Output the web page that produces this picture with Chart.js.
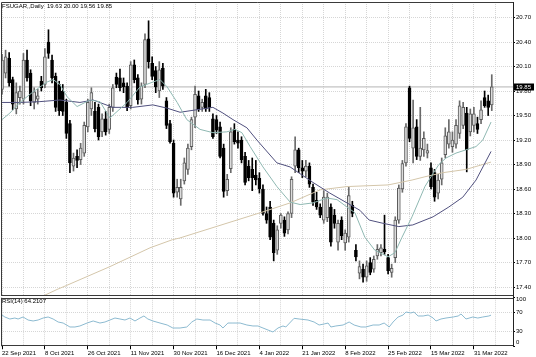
<!DOCTYPE html>
<html><head><meta charset="utf-8">
<script src="https://cdn.jsdelivr.net/npm/chart.js@4"></script>
<style>
html,body{margin:0;padding:0;background:#fff;}
#wrap{position:relative;width:536px;height:357px;overflow:hidden;background:#fff;}
#wrap canvas{position:absolute;left:0;}
</style></head><body>
<div id="wrap">
<canvas id="main" width="536" height="297" style="top:0;width:536px;height:297px"></canvas>
<canvas id="rsi" width="536" height="67" style="top:290px;width:536px;height:67px"></canvas>
</div>
<script>
// ---- data ----
const title = 'FSUGAR,,Daily';
const open = [
19.82,20.02,20.20,19.94,19.58,19.72,19.70,20.18,20.02,19.66,
19.70,19.92,19.88,20.40,20.18,19.98,19.88,19.80,19.66,19.40,
18.88,19.00,18.96,19.04,19.36,19.58,19.55,19.60,19.30,19.46,
19.33,19.60,19.97,19.96,19.90,19.86,19.62,20.12,19.96,19.70,
19.88,20.44,20.14,20.05,19.80,20.08,19.68,19.40,19.16,18.56,
18.48,18.70,18.84,19.12,19.48,19.74,19.60,19.74,19.72,19.46,
19.45,19.36,19.10,18.58,18.85,19.33,19.20,19.20,19.00,18.88,
18.84,18.77,18.73,18.60,18.30,18.38,18.18,17.85,18.18,18.22,
18.10,18.30,18.88,19.08,18.86,18.82,18.88,18.62,18.46,18.38,
18.22,18.25,18.38,18.28,17.95,18.22,17.94,18.01,18.40,17.85,
17.57,17.62,17.52,17.70,17.62,17.78,17.82,17.86,17.76,17.58,
17.76,18.22,18.60,18.92,19.84,19.10,19.36,19.00,19.08,19.04,
18.86,18.80,18.55,18.72,19.02,19.15,19.12,19.15,19.28,19.38,
19.53,19.30,19.38,19.40,19.45,19.72,19.68,19.63];
const high = [
20.25,20.30,20.27,19.97,19.90,19.86,20.26,20.30,20.06,19.84,
19.82,19.98,20.32,20.55,20.24,20.02,19.92,19.88,19.70,19.44,
19.04,19.08,19.16,19.42,19.70,19.84,19.66,19.64,19.52,19.55,
19.64,19.88,20.02,20.07,19.96,19.90,20.16,20.18,20.00,19.90,
20.50,20.66,20.22,20.10,20.16,20.14,19.72,19.44,19.20,18.72,
18.72,18.98,19.15,19.48,19.86,19.80,19.70,19.82,19.78,19.52,
19.50,19.42,19.15,18.78,19.35,19.40,19.30,19.24,19.05,18.95,
18.98,18.95,18.80,18.65,18.38,18.45,18.22,18.15,18.30,18.26,
18.32,18.75,19.24,19.10,18.95,18.95,18.92,18.66,18.56,18.42,
18.58,18.55,18.42,18.35,18.22,18.26,18.10,18.62,18.45,17.92,
17.72,17.68,17.72,17.76,17.78,17.92,17.92,18.28,17.80,17.68,
18.26,18.65,18.95,19.40,19.86,19.69,19.45,19.60,19.30,19.15,
18.92,18.84,18.78,18.98,19.35,19.45,19.30,19.45,19.68,19.66,
19.60,19.58,19.60,19.48,19.68,19.80,19.75,20.00];
const low = [
19.76,19.96,19.86,19.57,19.52,19.64,19.64,19.92,19.62,19.58,
19.64,19.80,19.84,20.20,19.90,19.55,19.50,19.50,19.22,18.80,
18.82,18.86,18.90,19.00,19.30,19.50,19.30,19.20,19.24,19.26,
19.28,19.55,19.84,19.80,19.78,19.56,19.58,19.90,19.64,19.64,
19.84,20.08,19.94,19.78,19.72,19.82,19.34,19.16,18.50,18.50,
18.40,18.66,18.78,19.08,19.35,19.55,19.55,19.55,19.55,19.22,
19.28,18.98,18.50,18.52,18.80,19.15,19.10,18.92,18.65,18.70,
18.58,18.65,18.55,18.28,18.18,17.98,17.72,17.80,18.12,18.02,
18.05,18.25,18.80,18.80,18.74,18.75,18.62,18.40,18.35,18.25,
18.18,18.20,17.90,18.12,17.85,17.98,17.85,17.95,18.26,17.72,
17.50,17.46,17.47,17.55,17.58,17.74,17.78,17.80,17.56,17.52,
17.70,18.18,18.56,18.88,19.18,18.92,18.96,18.95,19.00,18.98,
18.60,18.45,18.48,18.65,18.98,19.10,19.05,19.10,19.22,19.34,
18.81,19.25,19.30,19.28,19.40,19.60,19.50,19.56];
const close = [
20.18,20.22,19.90,19.64,19.78,19.80,20.18,19.96,19.68,19.79,
19.74,19.84,20.22,20.26,19.96,19.60,19.56,19.55,19.28,18.92,
18.98,18.95,19.10,19.38,19.66,19.78,19.34,19.24,19.46,19.30,
19.60,19.84,19.88,19.84,19.85,19.60,20.12,19.94,19.69,19.86,
20.43,20.16,19.98,19.85,20.06,19.86,19.38,19.18,18.55,18.62,
18.62,18.92,19.10,19.45,19.76,19.58,19.66,19.58,19.60,19.24,
19.32,19.00,18.57,18.72,19.30,19.18,19.16,18.96,18.68,18.74,
18.74,18.71,18.60,18.30,18.22,18.01,17.82,18.10,18.28,18.06,
18.30,18.72,19.08,18.86,18.82,18.88,18.66,18.44,18.38,18.28,
18.50,18.50,17.95,18.18,18.18,18.03,18.06,18.52,18.30,17.77,
17.65,17.52,17.66,17.58,17.74,17.86,17.88,17.83,17.60,17.63,
18.22,18.61,18.91,19.36,19.22,19.35,19.00,19.10,19.22,19.07,
18.63,18.50,18.71,18.92,19.25,19.30,19.20,19.38,19.62,19.60,
19.08,19.52,19.52,19.33,19.57,19.62,19.60,19.85];

// moving averages: [bar index, price]
const maFast = [[0,19.45],[2.2,19.53],[5,19.66],[8.7,19.79],[12.6,19.91],[14.3,19.94],[16.2,19.88],[18.2,19.73],[21,19.61],[24.6,19.69],[27.4,19.67],[30.2,19.47],[35,19.66],[38.6,19.85],[42.2,19.91],[44.2,19.94],[46.2,19.85],[49,19.66],[51.7,19.45],[55.4,19.33],[59,19.29],[62.9,19.30],[65.2,19.33],[67.1,19.29],[69.4,19.12],[73,18.87],[76.9,18.63],[80.6,18.44],[83.4,18.41],[87,18.43],[90.9,18.49],[93.7,18.47],[96.5,18.38],[98.7,18.31],[101.5,18.01],[104.3,17.85],[108,17.77],[109.9,17.82],[111.9,18.01],[114.7,18.26],[118.3,18.63],[120,18.75],[122.2,18.90],[124.2,18.98],[127,19.04],[129.8,19.08],[132.6,19.12],[134.5,19.20],[136.8,19.42]];
const maSlow = [[0,19.66],[5,19.66],[10.6,19.67],[16.2,19.69],[21.8,19.66],[25.5,19.69],[31,19.60],[36.6,19.60],[42.2,19.63],[46.2,19.59],[49.8,19.54],[59,19.60],[61.8,19.53],[64.6,19.45],[68.5,19.35],[71.3,19.20],[76.9,18.92],[80.6,18.87],[87,18.68],[91.7,18.55],[96.5,18.43],[100.1,18.34],[102.7,18.22],[106.6,18.18],[111,18.14],[114.9,18.16],[120.6,18.26],[125,18.38],[128.9,18.50],[132.6,18.71],[136.8,19.06]];
const maLong = [[9,17.20],[11.5,17.29],[15.4,17.37],[18.1,17.42],[30.2,17.65],[41.4,17.88],[47.7,17.98],[49.7,18.00],[73,18.32],[80.6,18.43],[89,18.59],[96.5,18.63],[108,18.65],[114.7,18.71],[118.3,18.75],[123.3,18.80],[129.8,18.84],[136.8,18.93]];
// RSI(14): [bar index, value]
const rsiPts = [[0,64.4],[0.8,60.3],[2.2,56.2],[3.6,58.2],[4.5,56.2],[5.9,60.3],[7.3,54.1],[8.7,52.1],[10.1,54.1],[11.5,58.2],[12.9,60.3],[14.3,56.2],[15.7,50.0],[17.1,47.9],[19,39.7],[20.4,39.7],[21.8,41.8],[23.8,47.9],[25.5,52.1],[27.4,47.9],[28.8,50.0],[30.2,54.1],[31.6,58.2],[33,56.2],[34.4,54.1],[35.8,58.2],[37.2,52.1],[38.6,58.2],[39.7,62.4],[40.8,56.2],[42.2,52.1],[44.2,47.9],[46.2,43.8],[47.8,37.6],[49.8,37.6],[51.7,39.7],[53.1,50.0],[54.5,56.2],[56.2,54.1],[58.2,54.1],[59.6,47.9],[61,43.8],[61.8,37.6],[63.2,47.9],[64.6,47.9],[66.6,47.9],[68.5,43.8],[70.2,41.8],[71.6,41.8],[73,37.6],[74.4,33.5],[75.8,29.4],[77.2,37.6],[78.6,41.8],[79.4,39.7],[81.7,57.6],[83.1,56.2],[85.6,54.1],[87.3,50.0],[88.7,43.8],[90.1,45.9],[91.2,47.9],[92,39.7],[93.4,41.8],[95.4,43.8],[97.1,50.0],[98.5,43.8],[100.4,39.7],[101.8,39.7],[103.8,43.8],[105.5,43.8],[106.9,47.9],[108.3,39.7],[109.4,50.0],[110.8,60.3],[112.2,64.4],[113,70.6],[114.4,68.6],[115.2,70.6],[116.4,62.4],[117.8,62.4],[119.2,64.4],[120.6,58.2],[121.4,52.1],[122.8,56.2],[124.2,58.2],[126.2,60.3],[127.6,62.4],[128.4,66.5],[129.8,56.2],[131.7,60.3],[133.1,58.2],[134.5,60.3],[136.2,62.4],[136.8,64.2]];
const rsiLast = 64.2107;

const dateLabels = ['22 Sep 2021','8 Oct 2021','26 Oct 2021','11 Nov 2021','30 Nov 2021','16 Dec 2021','4 Jan 2022','21 Jan 2022','8 Feb 2022','25 Feb 2022','15 Mar 2022','31 Mar 2022'];
const priceTicks = [17.40,17.70,18.00,18.30,18.60,18.90,19.20,19.50,19.80,20.10,20.40,20.70];
const rsiTicks = [0,30,70,100];

// ---- layout constants ----
const XMIN = -0.28, XMAX = 142.94;
const gridBars = []; for (let b = 0; b <= 138; b += 6) gridBars.push(b);
const FONT = "'Liberation Sans', Arial, sans-serif";
Chart.defaults.font.family = FONT;
Chart.defaults.font.size = 6;
Chart.defaults.color = '#000';
const GRID = '#d6d6d6';
const DASH = [1,1];
const N = close.length;

const toXY = arr => arr.map(p => ({x: p[0], y: p[1]}));
const isBull = close.map((c, i) => c >= open[i]);
const bodies = close.map((c, i) => ({x: i, y: [open[i], c]}));
const wicks = close.map((c, i) => ({x: i, y: [low[i], high[i]]}));
const lastClose = close[N - 1];

function zeroPad(s){ s.paddingTop = 0; s.paddingBottom = 0; s.paddingLeft = 0; s.paddingRight = 0; }

const mainDeco = {
  id: 'mainDeco',
  afterDraw(chart) {
    const {ctx, chartArea: a, scales: {y}} = chart;
    ctx.save();
    ctx.strokeStyle = '#3a3a3a'; ctx.lineWidth = 1;
    ctx.beginPath();
    ctx.moveTo(a.left + 0.5, a.bottom); ctx.lineTo(a.left + 0.5, a.top + 0.5); ctx.lineTo(a.right, a.top + 0.5);
    ctx.moveTo(a.left, a.bottom - 0.5); ctx.lineTo(a.right, a.bottom - 0.5);
    ctx.stroke();
    const py = y.getPixelForValue(lastClose);
    ctx.fillStyle = '#000';
    ctx.fillRect(a.right + 1, Math.round(py) - 3.5, 20, 7);
    ctx.fillStyle = '#fff'; ctx.font = '6px ' + FONT; ctx.textBaseline = 'middle';
    ctx.fillText(lastClose.toFixed(2), a.right + 3, py);
    ctx.fillStyle = '#000';
    const hdr = title + '  ' + [open[N-1], high[N-1], low[N-1], close[N-1]].map(v => v.toFixed(2)).join(' ');
    ctx.fillText(hdr, 2, 6);
    ctx.restore();
  }
};

new Chart(document.getElementById('main'), {
  type: 'line',
  data: {
    datasets: [
      {type:'line', data: toXY(maFast), borderColor:'#8fb8b2', borderWidth:1, pointRadius:0, tension:0, order:0},
      {type:'line', data: toXY(maSlow), borderColor:'#50507e', borderWidth:1, pointRadius:0, tension:0, order:0},
      {type:'line', data: toXY(maLong), borderColor:'#d4c6aa', borderWidth:1, pointRadius:0, tension:0, order:0},
      {type:'bar', data: bodies, barThickness:3, grouped:false,
       backgroundColor: isBull.map(b => b ? '#dcdcdc' : '#000'),
       borderColor: isBull.map(b => b ? '#5a5a5a' : '#000'),
       borderWidth:1, borderSkipped:false, order:1},
      {type:'bar', data: wicks, barThickness:1, grouped:false,
       backgroundColor: isBull.map(b => b ? '#6a6a6a' : '#000'), borderWidth:0, order:2},
      {type:'line', data: [{x: XMIN, y: lastClose}, {x: XMAX, y: lastClose}], borderColor:'#b4b4b4', borderWidth:1, pointRadius:0, order:3}
    ]
  },
  options: {
    responsive:false, animation:false, devicePixelRatio:1,
    layout:{padding:{top:2, left:1, right:0, bottom:1}},
    plugins:{legend:{display:false}, tooltip:{enabled:false}},
    scales:{
      x:{type:'linear', min:XMIN, max:XMAX, offset:false,
         afterBuildTicks: s => { s.ticks = gridBars.map(v => ({value:v})); },
         ticks:{display:false},
         grid:{color:GRID, drawTicks:false, offset:false},
         border:{display:false, dash:DASH},
         afterFit: s => { s.height = 0; zeroPad(s); }},
      y:{type:'linear', position:'right', min:17.29, max:20.89,
         afterBuildTicks: s => { s.ticks = priceTicks.map(v => ({value:v})); },
         ticks:{callback: v => Number(v).toFixed(2), padding:1, autoSkip:false, color:'#000'},
         grid:{color:GRID, tickColor:'#000', tickLength:2, drawTicks:true},
         border:{display:true, color:'#222', width:1, dash:DASH},
         afterFit: s => { s.width = 23; zeroPad(s); }}
    }
  },
  plugins:[mainDeco]
});

const rsiDeco = {
  id: 'rsiDeco',
  afterDraw(chart) {
    const {ctx, chartArea: a} = chart;
    ctx.save();
    ctx.strokeStyle = '#3a3a3a'; ctx.lineWidth = 1;
    ctx.beginPath();
    ctx.moveTo(a.left, Math.round(a.top) + 0.5); ctx.lineTo(a.right, Math.round(a.top) + 0.5);
    ctx.moveTo(a.left + 0.5, a.top); ctx.lineTo(a.left + 0.5, a.bottom);
    ctx.moveTo(a.left, Math.round(a.bottom) - 0.5); ctx.lineTo(a.right, Math.round(a.bottom) - 0.5);
    ctx.stroke();
    ctx.fillStyle = '#000'; ctx.font = '6px ' + FONT; ctx.textBaseline = 'middle';
    ctx.fillText('100', a.right + 3, a.top + 2);
    ctx.fillText('0', a.right + 3, a.bottom - 4);
    ctx.fillText('RSI(14) ' + rsiLast.toFixed(4), 2, a.top + 4);
    ctx.restore();
  }
};

new Chart(document.getElementById('rsi'), {
  type: 'line',
  data: {
    datasets: [
      {data: toXY(rsiPts), borderColor:'#8cbad0', borderWidth:1, pointRadius:0, tension:0}
    ]
  },
  options: {
    responsive:false, animation:false, devicePixelRatio:1,
    layout:{padding:{top:7.75, left:1, right:0, bottom:0}},
    plugins:{legend:{display:false}, tooltip:{enabled:false}},
    scales:{
      x:{type:'linear', min:XMIN, max:XMAX, offset:false,
         afterBuildTicks: s => { s.ticks = gridBars.map(v => ({value:v})); },
         ticks:{autoSkip:false, maxRotation:0, minRotation:0, align:'start', padding:0,
                callback: v => (v % 12 === 0 && dateLabels[v/12]) ? dateLabels[v/12] : ''},
         grid:{color:GRID, drawTicks:true, tickLength:3,
               tickColor: c => (c.tick && c.tick.value % 12 === 0) ? '#000' : 'rgba(0,0,0,0)'},
         border:{display:false, dash:DASH},
         afterFit: s => { s.height = 10.75; zeroPad(s); }},
      y:{type:'linear', position:'right', min:0, max:100,
         afterBuildTicks: s => { s.ticks = rsiTicks.map(v => ({value:v})); },
         ticks:{autoSkip:false, padding:1, callback: v => (v === 30 || v === 70) ? String(v) : ''},
         grid:{color: c => (c.tick && (c.tick.value === 30 || c.tick.value === 70)) ? GRID : 'rgba(0,0,0,0)',
               tickColor:'#000', tickLength:2, drawTicks:true},
         border:{display:true, color:'#222', width:1, dash:DASH},
         afterFit: s => { s.width = 23; zeroPad(s); }}
    }
  },
  plugins:[rsiDeco]
});
</script>
</body></html>
